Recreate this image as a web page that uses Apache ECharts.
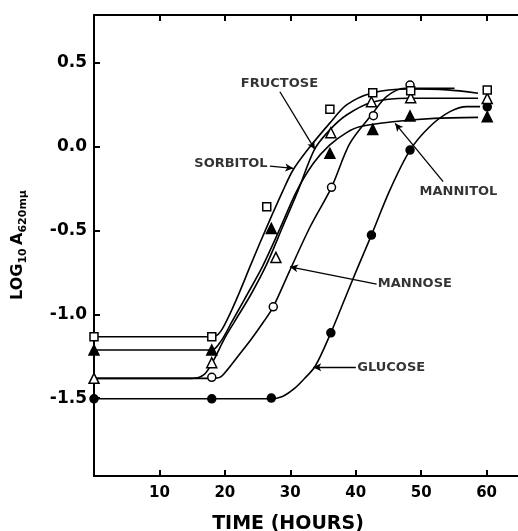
<!DOCTYPE html>
<html>
<head>
<meta charset="utf-8">
<script src="https://cdn.jsdelivr.net/npm/echarts@6/dist/echarts.min.js"></script>
<style>
  html, body { margin: 0; padding: 0; background: #fff; }
  #main { width: 518px; height: 531px; }
</style>
</head>
<body>
<div id="main"></div>
<script>
// measured points [hours, log10 A]
var sorbitolPts = [[0,-1.134],[18,-1.134],[26.4,-0.358],[36.05,0.224],[42.6,0.323],[48.4,0.335],[60.1,0.339]];
var fructosePts = [[0,-1.382],[18,-1.289],[27.8,-0.66],[36.2,0.084],[42.4,0.269],[48.4,0.293],[60.1,0.289]];
var mannitolPts = [[0,-1.213],[18,-1.213],[27.1,-0.487],[36.05,-0.039],[42.6,0.104],[48.3,0.184],[60.1,0.18]];
var mannosePts  = [[18,-1.376],[27.4,-0.955],[36.3,-0.242],[42.7,0.186],[48.3,0.369]];
var glucosePts  = [[0,-1.504],[18,-1.504],[27.1,-1.50],[36.2,-1.11],[42.4,-0.527],[48.3,-0.019],[60.1,0.239]];

// hand drawn curves
var sorbitolCurve = [[0,-1.134],[18,-1.134],[19.2,-1.11],[20.5,-1.02],[22,-0.89],[24,-0.70],[26.5,-0.47],[28.9,-0.26],[30.4,-0.14],[32.7,-0.015],[36,0.14],[38.6,0.25],[42.4,0.32],[48,0.345],[54,0.34],[58.7,0.32]];
var fructoseCurve = [[0,-1.382],[15,-1.382],[16.8,-1.36],[18.2,-1.28],[20,-1.14],[22,-1.01],[24,-0.88],[26.4,-0.70],[28.8,-0.48],[31.2,-0.26],[33.7,-0.015],[36,0.10],[38.6,0.19],[42.4,0.265],[48,0.29],[58.7,0.29]];
var mannitolCurve = [[0,-1.213],[18,-1.213],[19.4,-1.16],[21,-1.05],[23,-0.91],[25.8,-0.71],[28.4,-0.49],[30.9,-0.27],[33.5,-0.10],[36,0.01],[38.6,0.085],[40.6,0.12],[45.7,0.15],[52,0.17],[58.7,0.176]];
var mannoseCurve  = [[0,-1.382],[18,-1.382],[19.3,-1.375],[20.4,-1.33],[22,-1.25],[24,-1.15],[26,-1.04],[27.4,-0.955],[29.9,-0.74],[33,-0.48],[36.3,-0.242],[39.1,0.02],[42.4,0.19],[44.7,0.30],[47.5,0.35],[55.1,0.35]];
var glucoseCurve  = [[0,-1.504],[27.1,-1.504],[28.8,-1.49],[30.4,-1.45],[32,-1.39],[33.8,-1.31],[36.2,-1.11],[38.2,-0.92],[40.2,-0.73],[42.4,-0.527],[45.2,-0.26],[48.3,-0.02],[51.3,0.12],[54.4,0.21],[57,0.24],[59,0.24]];

// curve labels and their arrows
var labelNames = ['FRUCTOSE','SORBITOL','MANNITOL','MANNOSE','GLUCOSE'];
var labelPos   = [[28.34,0.379],[20.93,-0.099],[55.7,-0.268],[49.04,-0.815],[45.42,-1.316]];
var arrowFrom  = [[28.41,0.329],[26.89,-0.115],[53.36,-0.208],[43.19,-0.819],[40.02,-1.316]];
var arrowTo    = [[33.76,-0.015],[30.45,-0.128],[46.03,0.140],[29.94,-0.716],[33.5,-1.316]];

var xTicks = [10,20,30,40,50,60];
var yTicks = [-1.5,-1.0,-0.5,0,0.5];

var FONT = 'DejaVu Sans';

function curve(data){
	return {type:'line', data:data, smooth:0.3, symbol:'none', silent:true, z:2,
		lineStyle:{color:'#000', width:1.6}};
}
function points(data, symbol, filled, size){
	return {type:'scatter', data:data, symbol:symbol, symbolSize:size, z:5,
		itemStyle:{color: filled ? '#000' : '#fff', borderColor:'#000', borderWidth:1.5, opacity:1}};
}

var labelData = [], arrowData = [];
for (var i = 0; i < labelNames.length; i++) {
	labelData.push({name:labelNames[i], value:labelPos[i]});
	arrowData.push([{coord:arrowFrom[i]},{coord:arrowTo[i]}]);
}

var axisLineStyle = {color:'#000', width:2};

var option = {
	animation:false,
	grid:{left:94, right:0, top:15, bottom:55},
	xAxis:[{
		type:'value', min:0, max:64.8, position:'bottom',
		axisLine:{show:true, onZero:false, lineStyle:axisLineStyle},
		axisTick:{show:true, inside:true, length:6, customValues:xTicks, lineStyle:{color:'#000', width:2}},
		axisLabel:{customValues:xTicks, margin:10, color:'#000', fontFamily:FONT, fontSize:15, fontWeight:'bold'},
		splitLine:{show:false}
	},{
		type:'value', min:0, max:64.8, position:'top',
		axisLine:{show:true, onZero:false, lineStyle:axisLineStyle},
		axisTick:{show:true, inside:true, length:6, customValues:xTicks, lineStyle:{color:'#000', width:2}},
		axisLabel:{show:false},
		splitLine:{show:false}
	}],
	yAxis:{
		type:'value', min:-1.965, max:0.787,
		axisLine:{show:true, onZero:false, lineStyle:axisLineStyle},
		axisTick:{show:true, inside:true, length:6, customValues:yTicks, lineStyle:{color:'#000', width:2}},
		axisLabel:{customValues:yTicks, margin:7, color:'#000', fontFamily:FONT, fontSize:17, fontWeight:'bold',
			formatter:function(v){ return v.toFixed(1); }},
		splitLine:{show:false}
	},
	graphic:[{
		type:'text', x:18, y:245, rotation:Math.PI/2,
		style:{
			text:'{b|LOG}{s|10} {b|A}{s|620mμ}',
			align:'center', verticalAlign:'middle', fill:'#000',
			rich:{
				b:{fontFamily:FONT, fontSize:16, fontWeight:'bold', lineHeight:16, verticalAlign:'top'},
				s:{fontFamily:FONT, fontSize:11, fontWeight:'bold', lineHeight:11, padding:[8,0,0,0], verticalAlign:'top'}
			}
		}
	},{
		type:'text', x:288, y:524,
		style:{text:'TIME (HOURS)', align:'center', verticalAlign:'middle', fill:'#000',
			fontFamily:FONT, fontSize:19, fontWeight:'bold'}
	}],
	series:[
		curve(sorbitolCurve), curve(fructoseCurve), curve(mannitolCurve), curve(mannoseCurve), curve(glucoseCurve),
		points(glucosePts, 'circle', true, 8),
		points(mannosePts, 'circle', false, 8),
		points(mannitolPts, 'triangle', true, 10),
		points(fructosePts, 'triangle', false, 10),
		points(sorbitolPts, 'rect', false, 8),
		{
			type:'scatter', data:labelData, symbolSize:0, silent:true, z:6,
			label:{show:true, position:'inside', formatter:'{b}', color:'#000',
				fontFamily:FONT, fontSize:13, fontWeight:'bold'},
			markLine:{
				silent:true, symbol:['none','arrow'], symbolSize:[6,8], animation:false,
				label:{show:false},
				lineStyle:{color:'#000', width:1.3, type:'solid'},
				emphasis:{disabled:true},
				data:arrowData
			}
		}
	]
};

var myChart = echarts.init(document.getElementById('main'));
myChart.setOption(option);
</script>
</body>
</html>
